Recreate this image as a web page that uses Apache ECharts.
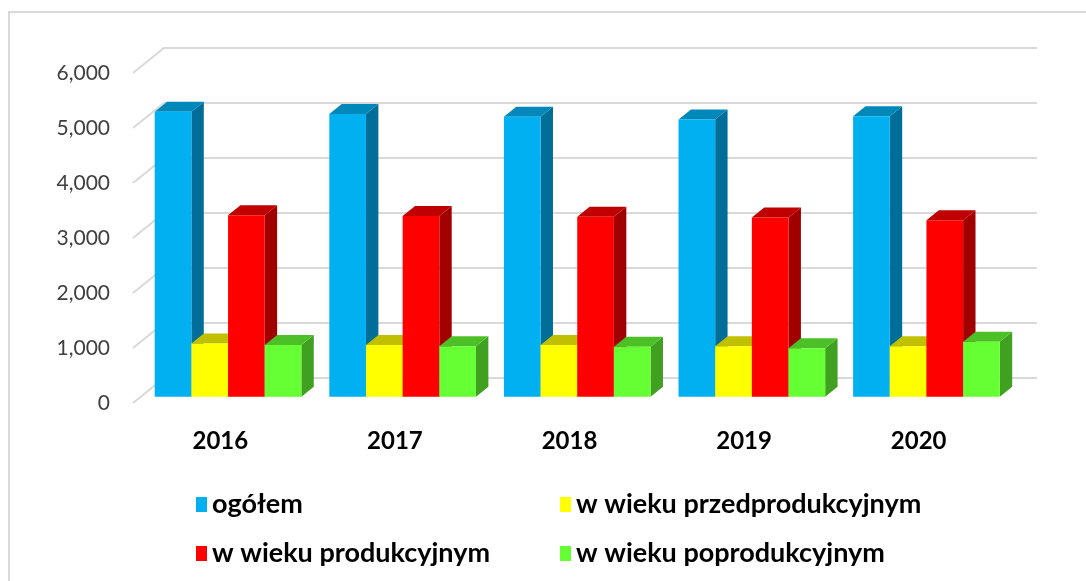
<!DOCTYPE html>
<html>
<head>
<meta charset="utf-8">
<script src="https://cdn.jsdelivr.net/npm/echarts@6/dist/echarts.min.js"></script>
<style>
html, body { margin: 0; padding: 0; background: #fff; }
#chart { width: 1086px; height: 581px; }
</style>
</head>
<body>
<div id="chart"></div>
<script>
var years = ['2016', '2017', '2018', '2019', '2020'];
var ogolem = [5180, 5140, 5090, 5040, 5100];
var przedprodukcyjny = [970, 940, 940, 920, 920];
var produkcyjny = [3300, 3285, 3275, 3260, 3210];
var poprodukcyjny = [940, 920, 910, 880, 1000];
var ticks = [0, 1000, 2000, 3000, 4000, 5000, 6000];

var names = ['ogółem', 'w wieku przedprodukcyjnym', 'w wieku produkcyjnym', 'w wieku poprodukcyjnym'];
var values = [ogolem, przedprodukcyjny, produkcyjny, poprodukcyjny];
// front, top, side
var colors = [
    ['#00B0F0', '#0088BB', '#006E99'],
    ['#FFFF00', '#C0C000', '#A0A000'],
    ['#FF0000', '#C00000', '#A00000'],
    ['#66FF33', '#4CC026', '#40A020']
];

// depth of the box (back wall offset)
var DX = 31, DY = 25;
var barFront = 0.25, barDepth = 0.4;

function makeBar(idx){
    return function(params, api){
        var c = api.value(0);
        var pTop = api.coord([c, api.value(1)]);
        var pBot = api.coord([c, 0]);
        var band = api.size([1, 0])[0];
        var bw = band * 0.21;
        var ox = barFront * DX, oy = barFront * DY;
        var bx = barDepth * DX, by = barDepth * DY;
        var xL = pTop[0] - 2 * bw + idx * bw + ox;
        var xR = xL + bw;
        var yT = pTop[1] - oy;
        var yB = pBot[1] - oy;
        var col = colors[idx];
        return {
            type: 'group',
            children: [
                {type: 'polygon', shape: {points: [[xR, yT], [xR + bx, yT - by], [xR + bx, yB - by], [xR, yB]]},
                    style: {fill: col[2]}},
                {type: 'polygon', shape: {points: [[xL, yT], [xR, yT], [xR + bx, yT - by], [xL + bx, yT - by]]},
                    style: {fill: col[1]}},
                {type: 'rect', shape: {x: xL, y: yT, width: bw, height: yB - yT},
                    style: {fill: col[0]}}
            ]
        };
    };
}

function renderGrid(params, api){
    var cs = params.coordSys;
    var y = api.coord([0, api.value(1)])[1];
    return {
        type: 'polyline',
        shape: {points: [[cs.x, y], [cs.x + DX, y - DY], [cs.x + cs.width + DX, y - DY]]},
        style: {stroke: '#D9D9D9', lineWidth: 2, fill: null}
    };
}

var series = [];
series.push({
    type: 'custom',
    name: 'grid',
    renderItem: renderGrid,
    data: ticks.map(function(t){ return [0, t]; }),
    encode: {x: 0, y: 1},
    silent: true,
    z: 1
});
for(var i = 0; i < names.length; ++ i){
    var d = [];
    for(var j = 0; j < years.length; ++ j){
        d.push([j, values[i][j]]);
    }
    series.push({
        type: 'custom',
        name: names[i],
        renderItem: makeBar(i),
        data: d,
        encode: {x: 0, y: 1},
        itemStyle: {color: colors[i][0]},
        z: 2 + i
    });
}

var legendText = {fontFamily: 'Lato', fontWeight: 'bold', fontSize: 27, color: '#000'};
var legendPos = [[191, 486], [555, 486], [191, 535], [555, 535]];
var legends = [];
for(var k = 0; k < names.length; ++ k){
    legends.push({
        data: [names[k]],
        left: legendPos[k][0],
        top: legendPos[k][1],
        icon: 'rect',
        itemWidth: 11,
        itemHeight: 15,
        itemGap: 5,
        textStyle: legendText,
        selectedMode: false
    });
}

var chart = echarts.init(document.getElementById('chart'));
chart.setOption({
    animation: false,
    backgroundColor: '#fff',
    graphic: [{
        type: 'rect',
        shape: {x: 9, y: 12, width: 1100, height: 600},
        style: {fill: null, stroke: '#D9D9D9', lineWidth: 2},
        silent: true
    }],
    legend: legends,
    grid: {left: 133, right: 80, top: 73, bottom: 178},
    xAxis: {
        type: 'category',
        data: years,
        axisLine: {show: false},
        axisTick: {show: false},
        axisLabel: {margin: 26, fontFamily: 'Lato', fontWeight: 'bold', fontSize: 24, color: '#000'}
    },
    yAxis: {
        type: 'value',
        min: 0,
        max: 6000,
        interval: 1000,
        splitLine: {show: false},
        axisLine: {show: false},
        axisTick: {show: false},
        axisLabel: {
            margin: 23,
            fontFamily: 'Lato',
            fontSize: 21,
            color: '#404040',
            formatter: function(v){ return v.toLocaleString('en-US'); }
        }
    },
    series: series
});
</script>
</body>
</html>
